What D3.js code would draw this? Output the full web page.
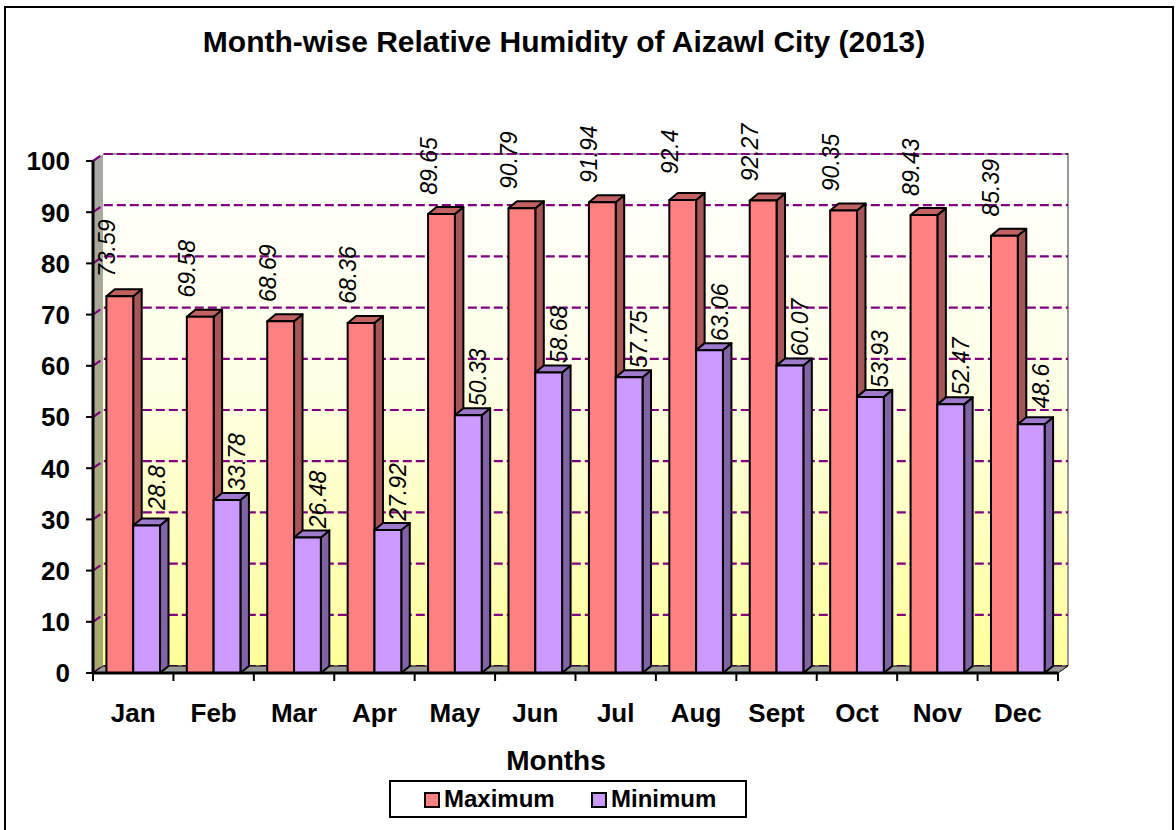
<!DOCTYPE html>
<html>
<head>
<meta charset="utf-8">
<script src="https://cdnjs.cloudflare.com/ajax/libs/d3/7.8.5/d3.min.js"></script>
<style>
    body { margin: 0; background: #fff; }
    text { font-family: Arial, "Liberation Sans", sans-serif; }
</style>
</head>
<body>
<div id="chart"></div>
<script>
const months = ["Jan", "Feb", "Mar", "Apr", "May", "Jun", "Jul", "Aug", "Sept", "Oct", "Nov", "Dec"];
const series = ["Maximum", "Minimum"];
const maximum = [73.59, 69.58, 68.69, 68.36, 89.65, 90.79, 91.94, 92.4, 92.27, 90.35, 89.43, 85.39];
const minimum = [28.8, 33.78, 26.48, 27.92, 50.33, 58.68, 57.75, 63.06, 60.07, 53.93, 52.47, 48.6];
const yTicks = [0, 10, 20, 30, 40, 50, 60, 70, 80, 90, 100];

const width = 1176, height = 830;
const plotLeft = 93, plotRight = 1058, plotTop = 161, plotBottom = 673;
const wallDx = 10, wallDy = -7;   // depth of the walls
const barDx = 8.5, barDy = -7;    // depth of the columns

const colors = {
    Maximum: { front: "#ff8080", top: "#c26262", side: "#a65656" },
    Minimum: { front: "#cc99ff", top: "#9f7acc", side: "#8064a6" }
};

const svg = d3.select("#chart").append("svg")
    .attr("width", width)
    .attr("height", height);

svg.append("rect")
    .attr("x", 5).attr("y", 7)
    .attr("width", 1168).attr("height", 840)
    .attr("fill", "#fff")
    .attr("stroke", "#000")
    .attr("stroke-width", 2);

const defs = svg.append("defs");
const wallGrad = defs.append("linearGradient").attr("id", "wall")
    .attr("x1", 0).attr("y1", 0).attr("x2", 0).attr("y2", 1);
wallGrad.append("stop").attr("offset", "0%").attr("stop-color", "#ffffff");
wallGrad.append("stop").attr("offset", "45%").attr("stop-color", "#ffffe6");
wallGrad.append("stop").attr("offset", "100%").attr("stop-color", "#ffff99");
const sideGrad = defs.append("linearGradient").attr("id", "sidewall")
    .attr("x1", 0).attr("y1", 0).attr("x2", 0).attr("y2", 1);
sideGrad.append("stop").attr("offset", "0%").attr("stop-color", "#a8a8a8");
sideGrad.append("stop").attr("offset", "100%").attr("stop-color", "#a9a86a");

const y = d3.scaleLinear().domain([0, 100]).range([plotBottom, plotTop]);
const x0 = d3.scaleBand().domain(months).range([plotLeft, plotRight]).paddingInner(0);
const x1 = d3.scaleBand().domain(series).range([0, x0.bandwidth()]).paddingOuter(0.5);

// back wall
svg.append("rect")
    .attr("x", plotLeft + wallDx).attr("y", plotTop + wallDy)
    .attr("width", plotRight - plotLeft).attr("height", plotBottom - plotTop)
    .attr("fill", "url(#wall)");

// side wall
svg.append("polygon")
    .attr("points", [[plotLeft, plotTop], [plotLeft + wallDx, plotTop + wallDy], [plotLeft + wallDx, plotBottom + wallDy], [plotLeft, plotBottom]].join(" "))
    .attr("fill", "url(#sidewall)");

// wall edges
svg.append("path")
    .attr("d", "M" + (plotLeft + wallDx) + "," + (plotTop + wallDy) + "H" + (plotRight + wallDx) + "V" + (plotBottom + wallDy))
    .attr("fill", "none")
    .attr("stroke", "#999")
    .attr("stroke-width", 2);

// gridlines
const grid = svg.append("g")
    .attr("stroke", "#800080")
    .attr("stroke-width", 2.2)
    .attr("stroke-dasharray", "9,4")
    .attr("fill", "none");
grid.selectAll("path")
    .data(yTicks)
    .enter().append("path")
    .attr("d", function(d) {
        return "M" + plotLeft + "," + y(d) + "L" + (plotLeft + wallDx) + "," + (y(d) + wallDy) + "H" + (plotRight + wallDx);
    });

// floor
svg.append("polygon")
    .attr("points", [[plotLeft, plotBottom], [plotLeft + wallDx, plotBottom + wallDy], [plotRight + wallDx, plotBottom + wallDy], [plotRight, plotBottom]].join(" "))
    .attr("fill", "#999")
    .attr("stroke", "#000")
    .attr("stroke-width", 1);

// columns
const bars = [];
months.forEach(function(m, i) {
    bars.push({ month: m, key: "Maximum", value: maximum[i] });
    bars.push({ month: m, key: "Minimum", value: minimum[i] });
});

const cols = svg.append("g").selectAll("g")
    .data(bars)
    .enter().append("g")
    .attr("stroke", "#000")
    .attr("stroke-width", 2)
    .attr("stroke-linejoin", "round");

cols.each(function(d) {
    const g = d3.select(this);
    const bx = x0(d.month) + x1(d.key), bw = x1.bandwidth();
    const yt = y(d.value), yb = y(0);
    g.append("polygon")
        .attr("points", [[bx + bw, yt], [bx + bw + barDx, yt + barDy], [bx + bw + barDx, yb + barDy], [bx + bw, yb]].join(" "))
        .attr("fill", colors[d.key].side);
    g.append("polygon")
        .attr("points", [[bx, yt], [bx + barDx, yt + barDy], [bx + bw + barDx, yt + barDy], [bx + bw, yt]].join(" "))
        .attr("fill", colors[d.key].top);
    g.append("rect")
        .attr("x", bx).attr("y", yt)
        .attr("width", bw).attr("height", yb - yt)
        .attr("fill", colors[d.key].front);
});

// data labels
svg.append("g").selectAll("text")
    .data(bars)
    .enter().append("text")
    .attr("transform", function(d) {
        const cx = x0(d.month) + x1(d.key) + x1.bandwidth() / 2 + (d.key === "Maximum" ? -13 : 10);
        const cy = y(d.value) - (d.key === "Maximum" ? 48 : 38);
        return "translate(" + cx + "," + cy + ") rotate(-90)";
    })
    .attr("text-anchor", "middle")
    .attr("dy", "0.35em")
    .style("font-size", "23px")
    .style("font-style", "italic")
    .text(function(d) { return d.value; });

// axes
svg.append("line")
    .attr("x1", plotLeft).attr("x2", plotLeft)
    .attr("y1", plotTop).attr("y2", plotBottom)
    .attr("stroke", "#000").attr("stroke-width", 3);
svg.append("line")
    .attr("x1", plotLeft - 1).attr("x2", plotRight)
    .attr("y1", plotBottom).attr("y2", plotBottom)
    .attr("stroke", "#000").attr("stroke-width", 3);

svg.append("g").selectAll("line")
    .data(yTicks)
    .enter().append("line")
    .attr("x1", plotLeft - 7).attr("x2", plotLeft)
    .attr("y1", function(d) { return y(d); })
    .attr("y2", function(d) { return y(d); })
    .attr("stroke", "#000").attr("stroke-width", 2);

svg.append("g").selectAll("text")
    .data(yTicks)
    .enter().append("text")
    .attr("x", 70)
    .attr("y", function(d) { return y(d); })
    .attr("dy", "0.36em")
    .attr("text-anchor", "end")
    .style("font-size", "26px")
    .style("font-weight", "bold")
    .text(function(d) { return d; });

svg.append("g").selectAll("line")
    .data(months.concat(["end"]))
    .enter().append("line")
    .attr("x1", function(d, i) { return plotLeft + i * x0.step(); })
    .attr("x2", function(d, i) { return plotLeft + i * x0.step(); })
    .attr("y1", plotBottom).attr("y2", plotBottom + 8)
    .attr("stroke", "#000").attr("stroke-width", 2);

svg.append("g").selectAll("text")
    .data(months)
    .enter().append("text")
    .attr("x", function(d) { return x0(d) + x0.bandwidth() / 2; })
    .attr("y", 722)
    .attr("text-anchor", "middle")
    .style("font-size", "26px")
    .style("font-weight", "bold")
    .text(function(d) { return d; });

// titles
svg.append("text")
    .attr("x", 564).attr("y", 52)
    .attr("text-anchor", "middle")
    .style("font-size", "30px")
    .style("font-weight", "bold")
    .text("Month-wise Relative Humidity of Aizawl City (2013)");

svg.append("text")
    .attr("x", 556).attr("y", 770)
    .attr("text-anchor", "middle")
    .style("font-size", "28px")
    .style("font-weight", "bold")
    .text("Months");

// legend
const legend = svg.append("g").attr("id", "legend");
legend.append("rect")
    .attr("x", 390).attr("y", 781)
    .attr("width", 356).attr("height", 36)
    .attr("fill", "#fff")
    .attr("stroke", "#000").attr("stroke-width", 2);

const legendX = [425, 592];
const items = legend.selectAll("g.item")
    .data(series)
    .enter().append("g")
    .attr("class", "item")
    .attr("transform", function(d, i) { return "translate(" + legendX[i] + ",793)"; });
items.append("rect")
    .attr("width", 14).attr("height", 14)
    .attr("fill", function(d) { return colors[d].front; })
    .attr("stroke", "#000").attr("stroke-width", 2);
items.append("text")
    .attr("x", 19).attr("y", 14)
    .style("font-size", "24px")
    .style("font-weight", "bold")
    .text(function(d) { return d; });
</script>
</body>
</html>
